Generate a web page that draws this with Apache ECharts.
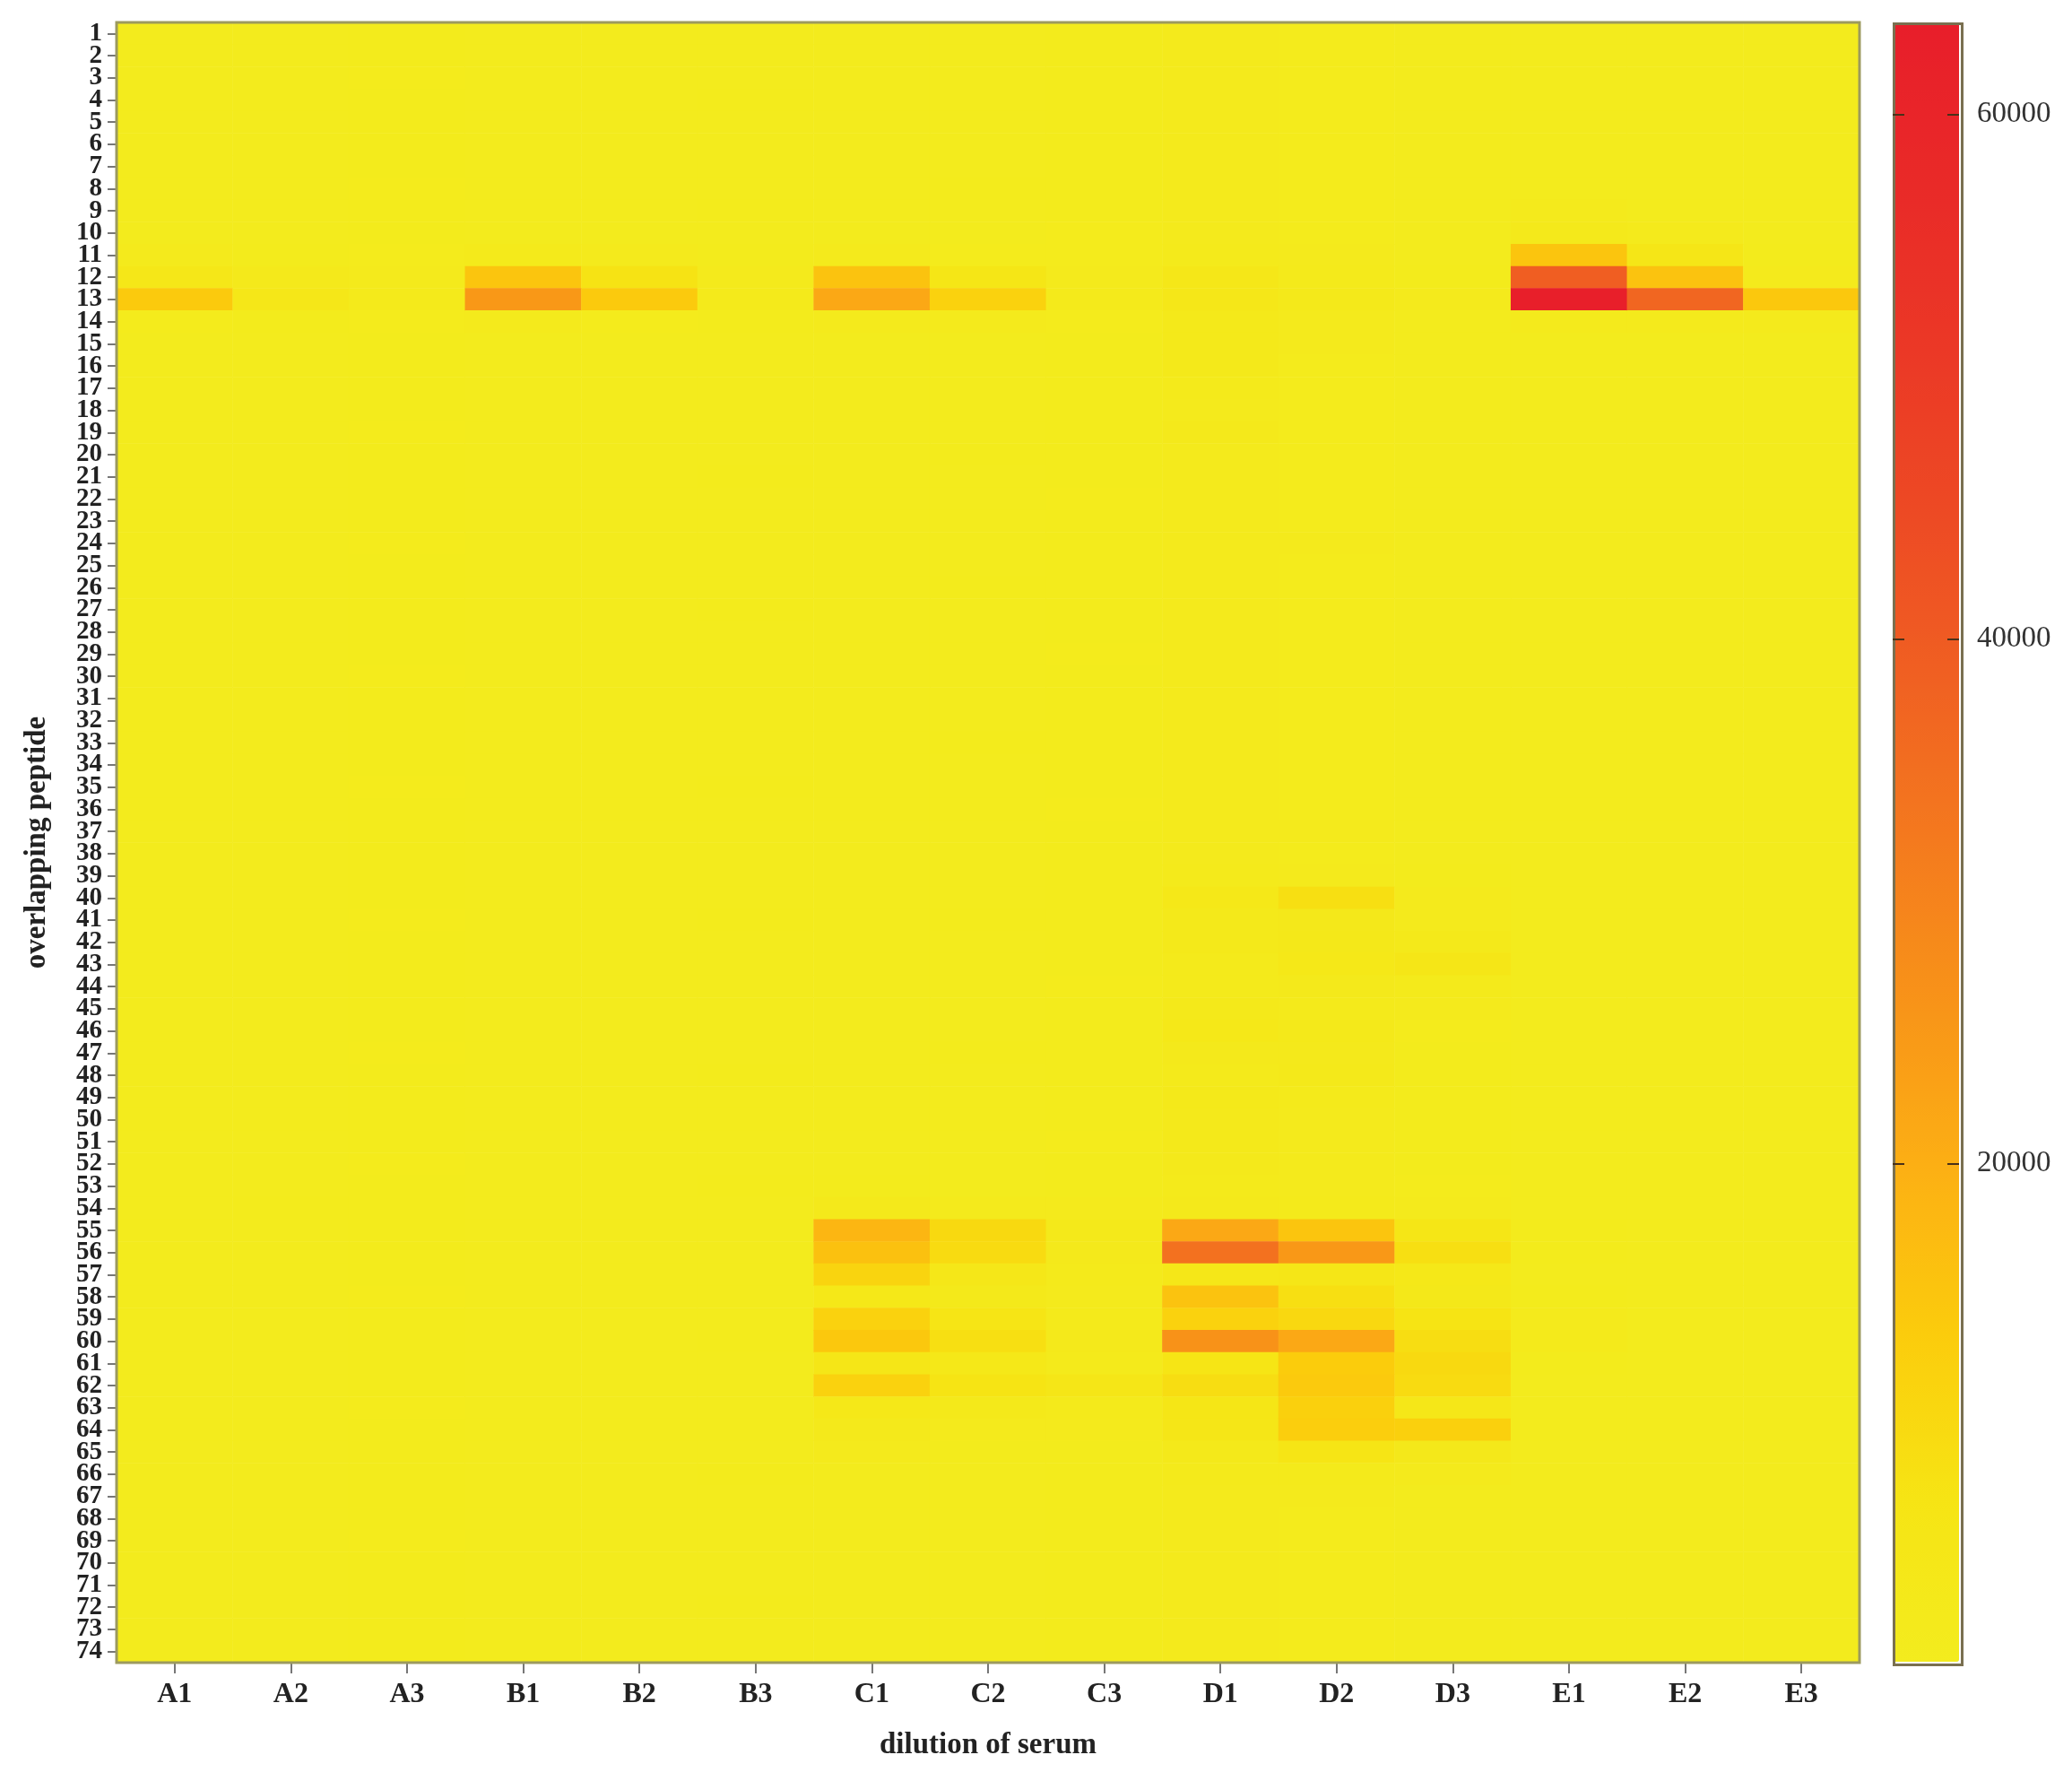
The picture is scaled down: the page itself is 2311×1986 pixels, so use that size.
<!DOCTYPE html>
<html>
<head>
<meta charset="utf-8">
<script src="https://cdn.jsdelivr.net/npm/echarts@6/dist/echarts.min.js"></script>
<style>
html,body{margin:0;padding:0;background:#ffffff;}
#chart{width:2311px;height:1986px;}
</style>
</head>
<body>
<div id="chart"></div>
<script>
// Columns (dilution of serum)
const dilutions = ['A1','A2','A3','B1','B2','B3','C1','C2','C3','D1','D2','D3','E1','E2','E3'];
// Rows (overlapping peptide 1..74)
const peptides = ['1','2','3','4','5','6','7','8','9','10','11','12','13','14','15','16','17','18','19','20','21','22','23','24','25','26','27','28','29','30','31','32','33','34','35','36','37','38','39','40','41','42','43','44','45','46','47','48','49','50','51','52','53','54','55','56','57','58','59','60','61','62','63','64','65','66','67','68','69','70','71','72','73','74'];
// Colour bar tick labels
const colorbarTicks = [20000, 40000, 60000];

// Signal values per column, peptide 1 -> 74
const colA1 = [1600,1600,1700,1600,1600,1700,1600,1600,1700,1700,
  2200,5000,14000,2100,1700,1600,1600,1700,1600,1600,
  1600,1700,1600,1600,1700,1600,1600,1600,1700,1600,
  1600,1600,1700,1600,1600,1600,1700,1600,1600,1700,
  1600,1600,1700,1600,1600,1600,1700,1600,1600,1600,
  1600,1700,1600,1700,1800,1700,1600,1600,1700,1700,
  1600,1600,1700,1600,1600,1600,1700,1600,1600,1600,
  1600,1600,1700,1600];
const colA2 = [1800,1800,1800,1900,1800,1800,1800,1900,1800,1800,
  2000,3000,5000,2000,1800,1800,1900,1800,1800,1800,
  1800,1800,1900,1800,1800,1800,1800,1900,1800,1800,
  1800,1900,1800,1800,1800,1800,1900,1800,1800,1800,
  1900,1800,1800,1800,1800,1900,1800,1800,1800,1800,
  1800,1800,1900,2000,1900,1800,1800,1800,1900,1800,
  1800,1800,1800,1900,1800,1800,1800,1800,1900,1800,
  1800,1800,1800,1800];
const colA3 = [2000,2000,2100,2000,2000,2000,2000,2100,2000,2000,
  2100,2200,2600,2100,2000,2000,2000,2000,2100,2000,
  2000,2000,2000,2100,2000,2000,2000,2000,2000,2100,
  2000,2000,2000,2000,2100,2000,2000,2000,2000,2000,
  2100,2000,2000,2000,2000,2000,2100,2000,2000,2000,
  2000,2100,2000,2000,2000,2000,2000,2100,2000,2000,
  2000,2000,2100,2000,2000,2000,2000,2000,2100,2000,
  2000,2000,2000,2000];
const colB1 = [1800,1800,1800,1800,1900,1800,1800,1800,1800,1900,
  2800,15000,25000,2200,1800,1800,1800,1900,1800,1800,
  1900,1800,1800,1800,1800,1800,1900,1800,1800,1800,
  1800,1800,1800,1900,1800,1800,1800,1800,1800,1900,
  1800,1800,1800,1800,1900,1800,1800,1800,1800,1800,
  1900,1800,1800,1800,1800,1900,1800,1800,1800,1800,
  1800,1900,1800,1800,1800,1800,1800,1900,1800,1800,
  1800,1800,1900,1800];
const colB2 = [1800,1800,1800,1800,1800,1800,1900,1800,1800,1800,
  2200,7500,14000,2100,1800,1800,1800,1800,1800,1900,
  1800,1800,1800,1800,1900,1800,1800,1800,1800,1800,
  1900,1800,1800,1800,1800,1800,1800,1900,1800,1800,
  1800,1800,1900,1800,1800,1800,1800,1800,1900,1800,
  1800,1800,1800,1900,1800,1800,1800,1800,1800,1900,
  1800,1800,1800,1800,1900,1800,1800,1800,1800,1800,
  1900,1800,1800,1800];
const colB3 = [1900,1900,1900,2000,1900,1900,1900,1900,2000,1900,
  2000,2200,2800,2000,1900,1900,1900,1900,1900,1900,
  2000,1900,1900,1900,1900,1900,2000,1900,1900,1900,
  1900,1900,1900,1900,2000,1900,1900,1900,1900,1900,
  2000,1900,1900,1900,1900,1900,1900,2000,1900,1900,
  1900,1900,2000,1900,1900,1900,1900,1900,1900,2000,
  1900,1900,1900,1900,1900,2000,1900,1900,1900,1900,
  1900,2000,1900,1900];
const colC1 = [1800,1800,1800,1800,1800,1900,1800,1800,1800,1800,
  2400,15500,21500,2300,1800,1800,1800,1900,1800,1800,
  1800,1800,1800,1800,1900,1800,1800,1800,1800,1800,
  1800,1900,1800,1800,1800,1800,1800,1800,1900,1800,
  1800,1800,1800,1900,1800,1800,1800,1800,1800,1900,
  1800,1800,2000,3000,18500,16000,11500,4500,12000,14500,
  5500,12000,4500,3000,2200,1900,1800,1800,1800,1800,
  1800,1800,1800,1800];
const colC2 = [1900,1900,1900,1900,1900,1900,1900,2000,1900,1900,
  2100,6000,12000,2200,1900,1900,1900,1900,1900,2000,
  1900,1900,1900,1900,1900,2000,1900,1900,1900,1900,
  1900,1900,2000,1900,1900,1900,1900,1900,1900,1900,
  2000,1900,1900,1900,1900,1900,2000,1900,1900,1900,
  1900,1900,1900,2400,10000,9500,5000,3500,6500,8500,
  4500,7000,3500,2400,2000,1900,1900,1900,1900,1900,
  1900,1900,1900,1900];
const colC3 = [2000,2000,2000,2000,2000,2000,2000,2000,2000,2100,
  2100,2200,2800,2100,2000,2000,2000,2000,2000,2000,
  2000,2100,2000,2000,2000,2000,2000,2000,2100,2000,
  2000,2000,2000,2000,2000,2100,2000,2000,2000,2000,
  2000,2000,2000,2100,2000,2000,2000,2000,2000,2000,
  2100,2000,2000,2200,3500,3000,2600,2400,2800,3000,
  2800,5500,2600,2200,2000,2000,2000,2000,2000,2000,
  2000,2000,2000,2000];
const colD1 = [2400,2400,2400,2400,2400,2500,2400,2400,2400,2400,
  2600,5000,5000,3500,3600,3200,2800,2500,3000,2500,
  2400,2400,2500,2400,2400,2400,2400,2500,2400,2400,
  2400,2400,2400,2400,2500,2400,2400,2400,2600,4500,
  3500,3200,2800,2600,3200,4500,3000,2600,3200,3000,
  3300,3000,2600,3000,21500,34500,5000,15500,12000,26500,
  6500,9000,6000,5500,3500,2600,2400,2400,2400,2400,
  2400,2400,2400,2400];
const colD2 = [2100,2100,2100,2100,2100,2100,2100,2100,2100,2100,
  2200,2600,3500,2400,2200,2100,2100,2100,2100,2100,
  2100,2100,2100,2200,2100,2100,2100,2100,2100,2100,
  2100,2100,2100,2100,2100,2100,2200,2100,2400,8500,
  3800,4000,4500,3000,2600,3200,3000,3200,2600,2400,
  2300,2300,2400,2800,15000,25000,5500,8500,10500,21500,
  13500,14000,12500,13000,6500,2800,2200,2100,2100,2100,
  2100,2100,2100,2100];
const colD3 = [1900,1900,1900,1900,1900,1900,1900,1900,1900,1900,
  1900,2000,2200,1900,1900,1900,1900,1900,1900,1900,
  1900,1900,1900,1900,1900,1900,1900,1900,1900,1900,
  1900,1900,1900,1900,1900,1900,1900,1900,2000,2200,
  2400,3200,5500,2600,2200,2100,2000,2000,2000,2000,
  2000,2000,2100,2400,6000,8500,4500,4000,7000,9000,
  10000,9500,5000,12500,3800,2200,1900,1900,1900,1900,
  1900,1900,1900,1900];
const colE1 = [1800,1800,1800,1800,1800,1800,1800,1900,2500,3000,
  15000,39000,63000,2500,1900,1800,1800,1800,1800,1800,
  1800,1800,1800,1800,1800,1800,1800,1800,1800,1800,
  1800,1800,1800,1800,1800,1800,1800,1800,1800,1800,
  1800,1800,1800,1800,1800,1800,1800,1800,1800,1800,
  1800,1800,1800,1900,2000,2000,1900,2000,2400,2600,
  2000,1900,1800,1800,1800,1800,1800,1800,1800,1800,
  1800,1800,1800,1800];
const colE2 = [1800,1800,1800,1800,1800,1800,1800,1800,1900,2500,
  5500,15500,37000,2300,1800,1800,1800,1800,1800,1800,
  1800,1800,1800,1800,1800,1800,1800,1800,1800,1800,
  1800,1800,1800,1800,1800,1800,1800,1800,1800,1800,
  1800,1800,1800,1800,1800,1800,1800,1800,1800,1800,
  1800,1800,1800,1800,1900,1900,1800,1800,1900,1900,
  1800,1800,1800,1800,1800,1800,1800,1800,1800,1800,
  1800,1800,1800,1800];
const colE3 = [1800,1800,1800,1800,1800,1800,1800,1800,1800,1800,
  2000,2500,14500,2200,1800,1800,1800,1800,1800,1800,
  1800,1800,1800,1800,1800,1800,1800,1800,1800,1800,
  1800,1800,1800,1800,1800,1800,1800,1800,1800,1800,
  1800,1800,1800,1800,1800,1800,1800,1800,1800,1800,
  1800,1800,1800,1800,1800,1800,1800,1800,1800,1800,
  1800,1800,1800,1800,1800,1800,1800,1800,1800,1800,
  1800,1800,1800,1800];

const columns = [colA1,colA2,colA3,colB1,colB2,colB3,colC1,colC2,colC3,colD1,colD2,colD3,colE1,colE2,colE3];

const heatData = [];
columns.forEach(function (col, xi) {
  col.forEach(function (v, yi) { heatData.push([xi, yi, v]); });
});

const FONT = "'Liberation Serif', 'Times New Roman', serif";
const VMIN = 1000, VMAX = 63500;
const tickLine = {color: '#4a3018', width: 2};

const chart = echarts.init(document.getElementById('chart'), null, {renderer: 'canvas'});
chart.setOption({
  animation: false,
  backgroundColor: '#ffffff',
  grid: [
    {left: 130, top: 25, width: 1944, height: 1829, show: true,
     borderColor: '#9c9a5e', borderWidth: 3, backgroundColor: 'transparent', z: 10},
    {left: 2111, top: 25, width: 74, height: 1828, show: false}
  ],
  xAxis: [
    {type: 'category', gridIndex: 0, data: dilutions, position: 'bottom',
     axisLine: {show: false},
     axisTick: {show: true, alignWithLabel: true, length: 12, lineStyle: {color: '#777', width: 2}},
     axisLabel: {fontFamily: FONT, fontWeight: 'bold', fontSize: 32, color: '#222', margin: 20},
     splitLine: {show: false},
     name: 'dilution of serum', nameLocation: 'middle', nameGap: 76,
     nameTextStyle: {fontFamily: FONT, fontWeight: 'bold', fontSize: 33, color: '#222'}},
    {type: 'category', gridIndex: 1, show: false, data: ['bar']}
  ],
  yAxis: [
    {type: 'category', gridIndex: 0, data: peptides, inverse: true,
     axisLine: {show: false},
     axisTick: {show: true, alignWithLabel: true, length: 10, lineStyle: {color: '#777', width: 2}},
     axisLabel: {interval: 0, fontFamily: FONT, fontWeight: 'bold', fontSize: 29, color: '#222', margin: 16},
     splitLine: {show: false},
     name: 'overlapping peptide', nameLocation: 'middle', nameRotate: 90, nameGap: 72,
     nameTextStyle: {fontFamily: FONT, fontWeight: 'bold', fontSize: 33, color: '#222'}},
    {type: 'value', gridIndex: 1, position: 'right', min: VMIN, max: VMAX, zlevel: 1, z: 60,
     axisLine: {show: false, onZero: false},
     axisTick: {show: true, inside: true, length: 13, customValues: colorbarTicks, lineStyle: tickLine},
     axisLabel: {show: true, customValues: colorbarTicks, fontFamily: FONT, fontSize: 33, color: '#333', margin: 20,
       formatter: function (v) { return String(v); }},
     splitLine: {show: false}},
    {type: 'value', gridIndex: 1, position: 'left', min: VMIN, max: VMAX, zlevel: 1, z: 60,
     axisLine: {show: false, onZero: false},
     axisTick: {show: true, inside: true, length: 13, customValues: colorbarTicks, lineStyle: tickLine},
     axisLabel: {show: false},
     splitLine: {show: false}}
  ],
  visualMap: {
    type: 'continuous', min: VMIN, max: VMAX, calculable: false, seriesIndex: 0,
    orient: 'vertical', left: 2111, top: 25, itemWidth: 74, itemHeight: 1828,
    padding: 0, text: null, showLabel: false, z: 4,
    inRange: {color: ['#f3ec1e','#f6e414','#fbcc0c','#fcb014','#f89418','#f47a1e','#f06022','#ed4a24','#eb3826','#e92a28','#e81e2a']}
  },
  series: [{
    type: 'heatmap', xAxisIndex: 0, yAxisIndex: 0, data: heatData,
    itemStyle: {borderWidth: 0},
    emphasis: {disabled: true},
    progressive: 0
  }],
  graphic: [{
    type: 'rect', left: 2110, top: 24, z: 100, silent: true,
    shape: {width: 76, height: 1830},
    style: {fill: 'none', stroke: '#7a7050', lineWidth: 3}
  }]
});
</script>
</body>
</html>
